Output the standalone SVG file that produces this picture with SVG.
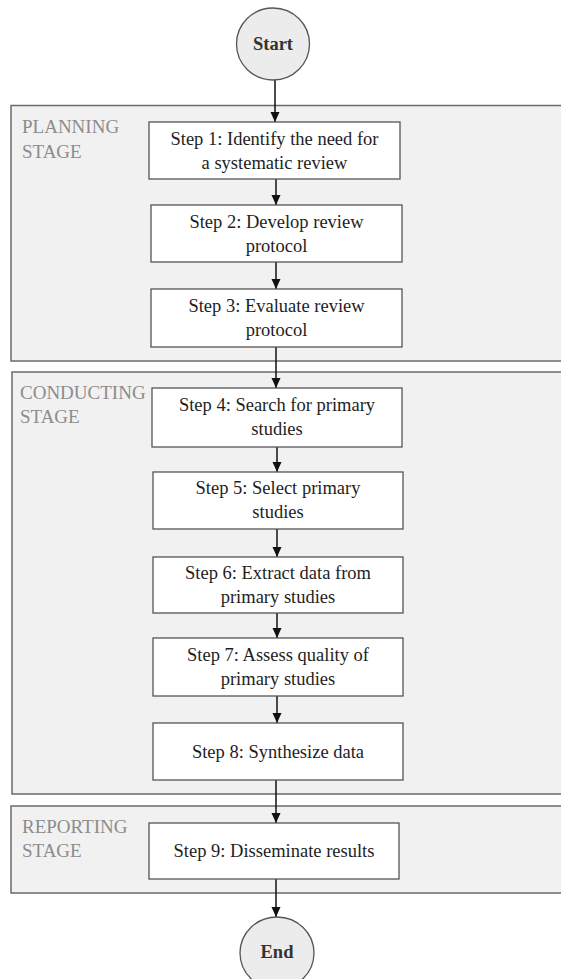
<svg xmlns="http://www.w3.org/2000/svg" width="561" height="979" viewBox="0 0 561 979">
<defs>
<marker id="ah" viewBox="0 0 10 10" refX="10" refY="5" markerWidth="10" markerHeight="10" markerUnits="userSpaceOnUse" orient="auto">
<path d="M0,0.5 L10,5 L0,9.5 Z" fill="#111"/>
</marker>
<style>
.stage{fill:#f1f1f1;stroke:#6b6b6b;stroke-width:1.5}
.box{fill:#fff;stroke:#555;stroke-width:1.3}
.term{fill:#ececec;stroke:#555;stroke-width:1.3}
.lbl{font-family:"Liberation Serif",serif;font-size:19px;fill:#8c8c8c}
.txt{font-family:"Liberation Serif",serif;font-size:18.5px;fill:#1e1e1e;text-anchor:middle}
.ttl{font-family:"Liberation Serif",serif;font-size:18.5px;font-weight:bold;fill:#333;text-anchor:middle}
.con{stroke:#111;stroke-width:1.5;fill:none;marker-end:url(#ah)}
</style>
</defs>
<rect width="561" height="979" fill="#fff"/>
<g id="planning-stage">
<rect class="stage" x="11" y="105.5" width="552" height="255.5"/>
<text class="lbl" x="22" y="133">PLANNING</text>
<text class="lbl" x="22" y="158">STAGE</text>
</g>
<g id="conducting-stage">
<rect class="stage" x="12" y="372" width="551" height="422"/>
<text class="lbl" x="20" y="399">CONDUCTING</text>
<text class="lbl" x="20" y="423">STAGE</text>
</g>
<g id="reporting-stage">
<rect class="stage" x="11" y="806" width="552" height="87"/>
<text class="lbl" x="22" y="833">REPORTING</text>
<text class="lbl" x="22" y="857">STAGE</text>
</g>
<g id="connectors">
<line class="con" x1="275" y1="80" x2="275" y2="122"/>
<line class="con" x1="276" y1="179" x2="276" y2="205"/>
<line class="con" x1="276" y1="262" x2="276" y2="289"/>
<line class="con" x1="276" y1="347" x2="276" y2="388"/>
<line class="con" x1="277" y1="447" x2="277" y2="472"/>
<line class="con" x1="277" y1="529" x2="277" y2="557"/>
<line class="con" x1="277" y1="613" x2="277" y2="638"/>
<line class="con" x1="277" y1="696" x2="277" y2="723"/>
<line class="con" x1="276" y1="780" x2="276" y2="823"/>
<line class="con" x1="276" y1="879" x2="276" y2="917"/>
</g>
<g id="start">
<ellipse class="term" cx="273" cy="44" rx="36.5" ry="36"/>
<text class="ttl" x="273" y="50">Start</text>
</g>
<g id="step1">
<rect class="box" x="149" y="122" width="251" height="57"/>
<text class="txt" x="274.5" y="145">Step 1: Identify the need for</text>
<text class="txt" x="274.5" y="169">a systematic review</text>
</g>
<g id="step2">
<rect class="box" x="151" y="205" width="251" height="57"/>
<text class="txt" x="276.5" y="228">Step 2: Develop review</text>
<text class="txt" x="276.5" y="252">protocol</text>
</g>
<g id="step3">
<rect class="box" x="151" y="289" width="251" height="58"/>
<text class="txt" x="276.5" y="312">Step 3: Evaluate review</text>
<text class="txt" x="276.5" y="336">protocol</text>
</g>
<g id="step4">
<rect class="box" x="152" y="388" width="250" height="59"/>
<text class="txt" x="277" y="411">Step 4: Search for primary</text>
<text class="txt" x="277" y="435">studies</text>
</g>
<g id="step5">
<rect class="box" x="153" y="472" width="250" height="57"/>
<text class="txt" x="278" y="494">Step 5: Select primary</text>
<text class="txt" x="278" y="518">studies</text>
</g>
<g id="step6">
<rect class="box" x="153" y="557" width="250" height="56"/>
<text class="txt" x="278" y="579">Step 6: Extract data from</text>
<text class="txt" x="278" y="603">primary studies</text>
</g>
<g id="step7">
<rect class="box" x="153" y="638" width="250" height="58"/>
<text class="txt" x="278" y="661">Step 7: Assess quality of</text>
<text class="txt" x="278" y="685">primary studies</text>
</g>
<g id="step8">
<rect class="box" x="153" y="723" width="250" height="57"/>
<text class="txt" x="278" y="758">Step 8: Synthesize data</text>
</g>
<g id="step9">
<rect class="box" x="149" y="823" width="250" height="56"/>
<text class="txt" x="274" y="857">Step 9: Disseminate results</text>
</g>
<g id="end">
<ellipse class="term" cx="277" cy="953" rx="37" ry="36"/>
<text class="ttl" x="277" y="958">End</text>
</g>
</svg>
